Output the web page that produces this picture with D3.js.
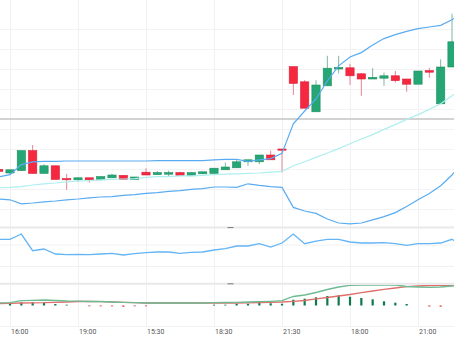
<!DOCTYPE html>
<html><head><meta charset="utf-8">
<script src="https://cdn.jsdelivr.net/npm/d3@7"></script>
<style>html,body{margin:0;padding:0;background:#fff;overflow:hidden}svg{display:block}</style>
</head><body><svg id="c" width="454" height="341"></svg>
<script>
// candle index (30-min bars); -1 and 40 are partially / fully outside the view
const idx = d3.range(-1, 41);
const open  = [100.99,100.90,100.96,101.46,100.89,101.08,100.76,100.73,100.78,100.73,100.78,100.84,100.74,100.92,100.86,100.87,100.91,100.83,100.88,100.89,100.98,101.03,101.18,101.18,101.35,101.50,103.56,103.18,102.43,103.08,103.50,103.53,103.38,103.25,103.27,103.33,103.25,103.12,103.46,102.63,103.55,104.18];
const high  = [100.99,100.98,101.46,101.60,101.12,101.08,100.88,100.79,100.78,100.81,100.88,100.84,100.80,101.02,100.95,100.96,100.93,100.91,100.93,101.02,101.16,101.25,101.23,101.35,101.46,101.50,103.56,103.22,103.22,103.83,103.83,103.63,103.40,103.52,103.41,103.45,103.25,103.45,103.53,103.74,104.88,104.30];
const low   = [100.94,100.86,100.95,100.89,100.89,100.74,100.48,100.68,100.66,100.71,100.78,100.74,100.74,100.85,100.86,100.81,100.84,100.83,100.88,100.89,100.98,101.03,101.08,101.12,101.23,100.91,102.85,102.52,102.43,103.08,103.39,103.10,102.83,103.25,103.08,103.16,102.93,103.12,103.28,102.63,103.55,103.90];
const close = [100.94,100.98,101.46,100.89,101.08,100.74,100.73,100.78,100.73,100.81,100.85,100.74,100.80,100.85,100.91,100.91,100.84,100.91,100.93,101.02,101.05,101.18,101.23,101.35,101.23,101.47,103.14,102.52,103.10,103.52,103.54,103.33,103.25,103.29,103.33,103.21,103.12,103.45,103.42,103.55,104.18,104.00];

const bbUpper = [100.80,100.86,101.11,101.18,101.19,101.19,101.20,101.20,101.20,101.20,101.20,101.20,101.20,101.20,101.21,101.21,101.21,101.21,101.21,101.23,101.24,101.24,101.19,101.23,101.26,101.39,102.13,102.45,102.75,103.20,103.58,103.80,103.91,104.10,104.26,104.36,104.44,104.51,104.55,104.59,104.73,104.93];
const bbMiddle = [100.53,100.54,100.56,100.60,100.63,100.65,100.68,100.70,100.71,100.73,100.74,100.75,100.76,100.79,100.81,100.81,100.83,100.83,100.84,100.86,100.87,100.88,100.89,100.90,100.92,100.94,101.08,101.18,101.29,101.40,101.51,101.63,101.75,101.86,101.99,102.11,102.24,102.36,102.49,102.63,102.83,103.03];
const bbLower = [100.25,100.23,100.13,100.15,100.18,100.20,100.23,100.25,100.28,100.30,100.31,100.34,100.36,100.39,100.41,100.44,100.46,100.49,100.51,100.55,100.55,100.54,100.63,100.59,100.56,100.54,100.04,99.95,99.89,99.75,99.65,99.63,99.65,99.73,99.81,99.91,100.06,100.23,100.39,100.58,100.85,101.18];

const rsi = [79.8,79.8,89.7,58.5,61.7,52.3,51.0,51.8,51.0,52.3,53.6,50.5,52.9,54.8,56.1,56.1,53.6,55.5,56.1,59.8,62.2,67.3,67.3,71.6,65.4,72.9,89.7,71.6,76.6,79.8,79.8,74.8,72.9,72.9,73.5,71.6,68.6,71.6,71.6,72.9,79.8,67.3];

const macd = [0.125,0.14,0.24,0.26,0.275,0.25,0.225,0.215,0.20,0.20,0.175,0.16,0.14,0.125,0.125,0.125,0.125,0.125,0.125,0.14,0.15,0.16,0.175,0.19,0.21,0.24,0.45,0.525,0.65,0.80,0.925,1.01,1.025,1.025,1.025,1.025,0.95,0.925,0.91,0.925,0.975,1.0];
const signal = [0.10,0.11,0.125,0.135,0.14,0.16,0.175,0.20,0.20,0.19,0.175,0.16,0.14,0.125,0.125,0.125,0.125,0.125,0.125,0.125,0.125,0.125,0.135,0.15,0.16,0.175,0.21,0.25,0.335,0.40,0.475,0.55,0.64,0.725,0.81,0.875,0.94,0.975,1.0,1.01,1.01,1.01];
const hist = [0,0.09,0.16,0.16,0.14,0.075,0.04,0,-0.04,-0.04,-0.04,-0.06,-0.04,-0.04,0,0,0,0,0,0.04,0.04,0.09,0.09,0.125,0.11,0.09,0.29,0.34,0.41,0.475,0.51,0.44,0.375,0.31,0.21,0.14,0.075,0,-0.05,-0.06,0,0];

const tickIdx = [0,6,12,18,24,30,36];
const tickLabels = ["16:00","19:00","15:30","18:30","21:30","18:00","21:00"];
const priceGrid = [100,100.5,101,101.5,102,102.5,103,103.5,104,104.5];
const priceLine = [102.25];
const rsiGrid = [30,70];

const W = 454;
const svg = d3.select('#c');
const step = 34/3;
const x = d3.scaleLinear().domain([-1, 40]).range([10 - step, 10 + 40*step]);
const yP = d3.scaleLinear().domain([99.575, 105.225]).range([226, 0]);
const yR = d3.scaleLinear().domain([0, 100]).range([282, 228.5]);
const yM = d3.scaleLinear().domain([-1.025, 1.05]).range([326, 284.5]);

const defs = svg.append('defs');
function clip(id, y0, y1){ defs.append('clipPath').attr('id', id).append('rect').attr('x',0).attr('y',y0).attr('width',W).attr('height',y1-y0); }
clip('cp', 0, 226.5); clip('cr', 228.6, 283); clip('cm', 284.8, 326);

// vertical grid + time axis
const xAxis = svg.append('g').attr('transform','translate(0,326)')
  .call(d3.axisBottom(x).tickValues(tickIdx).tickFormat((d,i)=>tickLabels[i]).tickSize(-326).tickPadding(0));
xAxis.select('.domain').remove();
xAxis.selectAll('line').attr('stroke','#f1f1f3');
xAxis.selectAll('text').attr('text-anchor','start').attr('x',0.5).attr('y',8).attr('dy',0)
  .attr('fill','#555').style('font-family','Roboto, sans-serif').style('font-size','7px');

// horizontal grids
const gP = svg.append('g').call(d3.axisLeft(yP).tickValues(priceGrid).tickSize(-W).tickFormat(''));
gP.select('.domain').remove(); gP.selectAll('line').attr('stroke','#f3f3f5');
const gR = svg.append('g').call(d3.axisLeft(yR).tickValues(rsiGrid).tickSize(-W).tickFormat(''));
gR.select('.domain').remove(); gR.selectAll('line').attr('stroke','#f1f1f3');
svg.append('line').attr('x1',0).attr('x2',W).attr('y1',326.5).attr('y2',326.5).attr('stroke','#f1f1f3');

// price line
svg.selectAll('.pl').data(priceLine).enter().append('line')
  .attr('x1',0).attr('x2',W).attr('y1',d=>yP(d)).attr('y2',d=>yP(d))
  .attr('stroke','#c3c3c3').attr('stroke-width',1.7);

// candles
const up = '#26a675', upEdge = '#1e915f', dn = '#f5283f', dnEdge = '#d8213a';
const gc = svg.append('g').attr('clip-path','url(#cp)');
const bw = step*0.73;
idx.forEach((k,i)=>{
  const isUp = close[i] >= open[i];
  gc.append('line').attr('x1',x(k)).attr('x2',x(k)).attr('y1',yP(high[i])).attr('y2',yP(low[i]))
    .attr('stroke', isUp ? '#7fb79c' : '#e38593').attr('stroke-width',1);
  const y0 = Math.min(yP(open[i]), yP(close[i]));
  const h = Math.max(1.2, Math.abs(yP(open[i]) - yP(close[i])));
  gc.append('rect').attr('x', x(k)-bw/2).attr('y', y0).attr('width', bw).attr('height', h)
    .attr('fill', isUp ? up : dn).attr('stroke', isUp ? upEdge : dnEdge).attr('stroke-width',0.6);
});

// bollinger bands
const lineP = arr => d3.line().x((d,i)=>x(idx[i])).y(d=>yP(d))(arr);
gc.append('path').attr('d', lineP(bbMiddle)).attr('fill','none').attr('stroke','#aeeff0').attr('stroke-width',1.2);
gc.append('path').attr('d', lineP(bbUpper)).attr('fill','none').attr('stroke','#5aacf2').attr('stroke-width',1.2);
gc.append('path').attr('d', lineP(bbLower)).attr('fill','none').attr('stroke','#5aacf2').attr('stroke-width',1.2);

// RSI
const gr = svg.append('g').attr('clip-path','url(#cr)');
gr.append('path').attr('d', d3.line().x((d,i)=>x(idx[i])).y(d=>yR(d))(rsi))
  .attr('fill','none').attr('stroke','#64b5f6').attr('stroke-width',1.3);

// MACD
const gm = svg.append('g').attr('clip-path','url(#cm)');
idx.forEach((k,i)=>{
  if (hist[i] === 0) return;
  const yv = yM(hist[i]), y0 = yM(0);
  gm.append('rect').attr('x', x(k)-1.1).attr('width',2.2)
    .attr('y', Math.min(yv,y0)).attr('height', Math.abs(yv-y0))
    .attr('fill', hist[i] > 0 ? '#0d7a4d' : '#e8353c');
});
const lineM = arr => d3.line().x((d,i)=>x(idx[i])).y(d=>yM(d))(arr);
gm.append('path').attr('d', lineM(signal)).attr('fill','none').attr('stroke','#e06f6c').attr('stroke-width',1.3);
gm.append('path').attr('d', lineM(macd)).attr('fill','none').attr('stroke','#6cbb93').attr('stroke-width',1.3);

// pane separators with handles
[227.6, 283.8].forEach(y=>{
  svg.append('line').attr('x1',0).attr('x2',W).attr('y1',y).attr('y2',y).attr('stroke','#e9e9eb').attr('stroke-width',2);
  svg.append('line').attr('x1',227.5).attr('x2',233.5).attr('y1',y).attr('y2',y).attr('stroke','#7a7a7a').attr('stroke-width',1);
});
</script></body></html>
